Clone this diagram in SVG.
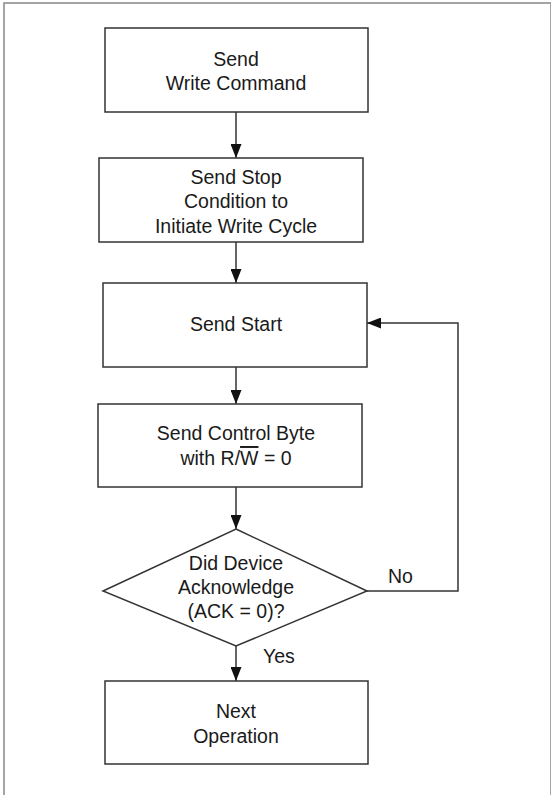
<svg xmlns="http://www.w3.org/2000/svg" width="551" height="795" viewBox="0 0 551 795">
<style>
.box{fill:#fff;stroke:#333;stroke-width:1.5}
.t{font-family:"Liberation Sans",Arial,sans-serif;font-size:19.5px;fill:#1a1a1a;text-anchor:middle}
.l{font-family:"Liberation Sans",Arial,sans-serif;font-size:19.5px;fill:#1a1a1a}
.c{fill:none;stroke:#333;stroke-width:1.5}
</style>
<defs>
<marker id="ah" viewBox="0 0 14 11" refX="14" refY="5.5" markerWidth="14" markerHeight="11" markerUnits="userSpaceOnUse" orient="auto">
<path d="M0,0 L14,5.5 L0,11 Z" fill="#111"/>
</marker>
</defs>
<rect x="0" y="0" width="551" height="795" fill="#fff"/>
<rect x="4" y="3" width="547" height="800" fill="none" stroke="#888" stroke-width="1.5"/>
<g id="connectors">
<line class="c" x1="236" y1="112" x2="236" y2="158" marker-end="url(#ah)"/>
<line class="c" x1="236" y1="242" x2="236" y2="283" marker-end="url(#ah)"/>
<line class="c" x1="236" y1="367" x2="236" y2="404" marker-end="url(#ah)"/>
<line class="c" x1="236" y1="487" x2="236" y2="529" marker-end="url(#ah)"/>
<line class="c" x1="236" y1="646" x2="236" y2="681" marker-end="url(#ah)"/>
<polyline class="c" points="367,591 458,591 458,323 367,323" marker-end="url(#ah)"/>
<text class="l" x="388" y="583">No</text>
<text class="l" x="263" y="663">Yes</text>
</g>
<g id="n1">
<rect class="box" x="105" y="28" width="263" height="84"/>
<text class="t" x="236" y="66">Send</text>
<text class="t" x="236" y="90">Write Command</text>
</g>
<g id="n2">
<rect class="box" x="99" y="158" width="264" height="84"/>
<text class="t" x="236" y="184">Send Stop</text>
<text class="t" x="236" y="208">Condition to</text>
<text class="t" x="236" y="233">Initiate Write Cycle</text>
</g>
<g id="n3">
<rect class="box" x="103" y="283" width="264" height="84"/>
<text class="t" x="236" y="331">Send Start</text>
</g>
<g id="n4">
<rect class="box" x="98" y="404" width="264" height="83"/>
<text class="t" x="236" y="440">Send Control Byte</text>
<text class="t" x="236" y="465">with R/<tspan style="text-decoration:overline">W</tspan> = 0</text>
</g>
<g id="n5">
<polygon class="box" points="236,529 367,591 236,646 103,591"/>
<text class="t" x="236" y="570">Did Device</text>
<text class="t" x="236" y="594">Acknowledge</text>
<text class="t" x="236" y="618">(ACK = 0)?</text>
</g>
<g id="n6">
<rect class="box" x="105" y="681" width="263" height="83"/>
<text class="t" x="236" y="718">Next</text>
<text class="t" x="236" y="743">Operation</text>
</g>
</svg>
